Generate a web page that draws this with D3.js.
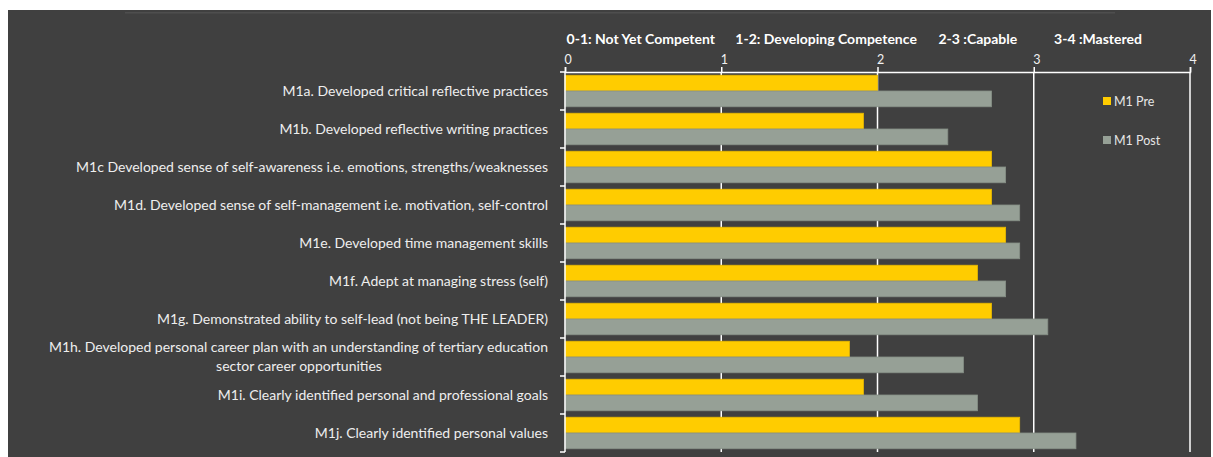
<!DOCTYPE html>
<html><head><meta charset="utf-8">
<script src="https://cdn.jsdelivr.net/npm/d3@7"></script>
<style>
html,body{margin:0;padding:0;background:#fff;}
svg{display:block;}
</style></head>
<body>
<svg id="chart" width="1213" height="457"></svg>
<script>
const categories = [
  ["M1a. Developed critical reflective practices"],
  ["M1b. Developed reflective writing practices"],
  ["M1c Developed sense of self-awareness i.e. emotions, strengths/weaknesses"],
  ["M1d. Developed sense of self-management i.e. motivation, self-control"],
  ["M1e. Developed time management skills"],
  ["M1f. Adept at managing stress (self)"],
  ["M1g. Demonstrated ability to self-lead (not being THE LEADER)"],
  ["M1h. Developed personal career plan with an understanding of tertiary education", "sector career opportunities"],
  ["M1i. Clearly identified personal and professional goals"],
  ["M1j. Clearly identified personal values"]
];
const preValues  = [2.00, 1.91, 2.73, 2.73, 2.82, 2.64, 2.73, 1.82, 1.91, 2.91];
const postValues = [2.73, 2.45, 2.82, 2.91, 2.91, 2.82, 3.09, 2.55, 2.64, 3.27];
const seriesNames = ["M1 Pre", "M1 Post"];
const seriesColors = ["#FFCC00", "#96A096"];
const tickValues = [0, 1, 2, 3, 4];
const bandLabels = ["0-1: Not Yet Competent", "1-2: Developing Competence", "2-3 :Capable", "3-4 :Mastered"];
const bandLabelStarts = [0.01, 1.09, 2.39, 3.13];

(function() {
const svg = d3.select("#chart");
svg.append("rect").attr("x", 8).attr("y", 10).attr("width", 1203).attr("height", 447).attr("fill", "#404040");
svg.append("rect").attr("x", 125).attr("y", 12).attr("width", 990).attr("height", 1.5).attr("fill", "#4e4e4e");

const mLeft = 565, mRight = 1190, mTop = 72, mBottom = 452;
const x = d3.scaleLinear().domain([0, 4]).range([mLeft, mRight]);
const y = d3.scaleBand().domain(d3.range(categories.length)).range([mTop, mBottom]).paddingInner(0.17).paddingOuter(0.085);
const ys = d3.scaleBand().domain([0, 1]).range([0, y.bandwidth()]);

const font = "Lato, 'Open Sans', sans-serif";

svg.append("g").selectAll("line").data(tickValues.slice(1)).join("line")
  .attr("x1", d => x(d)).attr("x2", d => x(d)).attr("y1", mTop).attr("y2", mBottom)
  .attr("stroke", "#ffffff").attr("stroke-width", 1.5);

const data = categories.map((c, i) => ({i, vals: [preValues[i], postValues[i]]}));
const grp = svg.append("g").selectAll("g").data(data).join("g")
  .attr("transform", d => `translate(0,${y(d.i)})`);
grp.selectAll("rect").data(d => d.vals.map((v, k) => ({v, k}))).join("rect")
  .attr("x", x(0)).attr("y", d => ys(d.k)).attr("height", ys.bandwidth())
  .attr("width", d => x(d.v) - x(0))
  .attr("fill", d => seriesColors[d.k])
  .attr("stroke", d => d.k === 0 ? "#E8B800" : "#869086").attr("stroke-width", 0.8);

const axTop = svg.append("g").attr("transform", `translate(0,${mTop})`)
  .call(d3.axisTop(x).tickValues(tickValues).tickSize(5).tickPadding(4).tickFormat(d3.format("d")));
axTop.select(".domain").attr("stroke", "#ffffff").attr("stroke-width", 1.5);
axTop.selectAll(".tick line").attr("stroke", "#ffffff").attr("stroke-width", 1.5);
axTop.selectAll(".tick text").attr("fill", "#f0f0f0").attr("font-family", font).attr("font-size", 12.5).attr("dx", "0.2em").attr("dy", "0.05em");

const bounds = d3.range(categories.length + 1).map(i => mTop + i * (mBottom - mTop) / categories.length);
svg.append("line").attr("x1", mLeft).attr("x2", mLeft).attr("y1", mTop).attr("y2", mBottom)
  .attr("stroke", "#ffffff").attr("stroke-width", 1.5);
svg.append("g").selectAll("line").data(bounds).join("line")
  .attr("x1", mLeft - 5).attr("x2", mLeft).attr("y1", d => d).attr("y2", d => d)
  .attr("stroke", "#ffffff").attr("stroke-width", 1.5);

const lab = svg.append("g").selectAll("text").data(categories).join("text")
  .attr("x", 548)
  .attr("y", (d, i) => y(i) + y.bandwidth() / 2)
  .attr("text-anchor", "end").attr("fill", "#eeeeee")
  .attr("font-family", font).attr("font-size", 14);
lab.each(function(d) {
  const t = d3.select(this);
  const n = d.length;
  d.forEach((line, j) => {
    t.append("tspan").attr("x", j === 0 ? 548 : 299).attr("text-anchor", j === 0 ? "end" : "middle")
      .attr("dy", j === 0 ? ((-(n - 1) * 19 / 2) + 4.5) : 19).text(line);
  });
});

svg.append("g").selectAll("text").data(bandLabels).join("text")
  .attr("x", (d, i) => x(bandLabelStarts[i])).attr("y", 44)
  .attr("fill", "#ffffff").attr("font-weight", "bold")
  .attr("font-family", font).attr("font-size", 14).text(d => d);

const leg = svg.append("g").selectAll("g").data(seriesNames).join("g")
  .attr("transform", (d, i) => `translate(1103,${101 + i * 39})`);
leg.append("rect").attr("x", 0).attr("y", -4).attr("width", 8).attr("height", 8)
  .attr("fill", (d, i) => seriesColors[i]);
leg.append("text").attr("x", 11).attr("y", 4.5).attr("fill", "#e6e6e6")
  .attr("font-family", font).attr("font-size", 12.5).text(d => d);
})();
</script>
</body></html>
